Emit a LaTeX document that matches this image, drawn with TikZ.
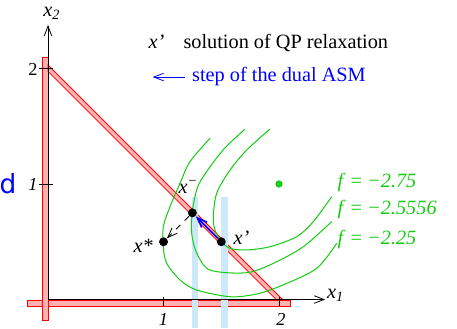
\documentclass[tikz,border=0pt]{standalone}
\usepackage{fontspec}
\setmainfont{Liberation Serif}
\newfontfamily\dsans{DejaVu Sans}
\usetikzlibrary{arrows.meta}
\definecolor{barred}{RGB}{255,178,178}
\definecolor{barblue}{RGB}{204,232,250}
\definecolor{levgreen}{RGB}{20,205,20}
\begin{document}
\begin{tikzpicture}[x=2cm, y=2cm,
  every node/.style={font=\normalsize},
  constr/.style={draw=red, line width=0.4pt, fill=barred},
  branch/.style={fill=barblue},
  level/.style={levgreen, line width=0.5pt},
  barb/.style={-{Straight Barb[length=1.7mm, width=1.3mm]}},
  pt/.style={circle, fill=black, inner sep=0pt, minimum size=4.4pt},
  lab/.style={font=\itshape, inner sep=1pt},
  tick/.style={font=\small\itshape, inner sep=1pt}]
\useasboundingbox (-0.4156,-0.2468) rectangle (3.541,2.593);

% constraints of the QP
\filldraw[constr] (-0.18,-0.004) rectangle (2.10,-0.056);
\filldraw[constr] (-0.052,-0.177) rectangle (0,2.10);
\filldraw[constr] (0,1.975) -- (0,2.03) -- (2.03,0) -- (1.975,0) -- cycle;

% branching strips
\fill[branch] (1.25,-0.25) rectangle (1.30,0.89);
\fill[branch] (1.50,-0.25) rectangle (1.556,0.89);

% level sets of f
\draw[level] plot[smooth] coordinates {(1.403,1.396) (1.229,1.193) (1.143,1.006)
  (1.056,0.803) (0.998,0.630) (0.998,0.457) (1.028,0.313) (1.143,0.169)
  (1.287,0.082) (1.576,0.024) (1.807,0.048) (2.035,0.126) (2.326,0.270) (2.500,0.487)};
\draw[level] plot[smooth] coordinates {(1.706,1.476) (1.515,1.294) (1.342,1.061)
  (1.287,0.948) (1.249,0.760) (1.244,0.573) (1.287,0.403) (1.403,0.255)
  (1.720,0.232) (1.951,0.313) (2.210,0.457) (2.456,0.674)};
\draw[level] plot[smooth] coordinates {(1.922,1.476) (1.720,1.294) (1.576,1.121)
  (1.461,0.922) (1.431,0.717) (1.446,0.602) (1.504,0.500) (1.576,0.443)
  (1.720,0.429) (1.922,0.457) (2.153,0.544) (2.297,0.674) (2.456,0.890)};
\node[circle, fill=levgreen, inner sep=0pt, minimum size=3.6pt] (fmin) at (2,1) {};

\node[levgreen, anchor=base west] (f1) at (2.445,0.974) {\textit{f} = \textit{−2.75}};
\node[levgreen, anchor=base west] (f2) at (2.445,0.732) {\textit{f} = \textit{−2.5556}};
\node[levgreen, anchor=base west] (f3) at (2.445,0.472) {\textit{f} = \textit{−2.25}};

% axes
\coordinate (O) at (0,0);
\coordinate (x1end) at (2.40,0);
\coordinate (x2end) at (0,2.377);
\draw[barb] (O) -- (x1end);
\draw[barb] (O) -- (x2end);
\node[lab] (x1lab) at (2.49,0.04) {x\textsubscript{1}};
\node[lab] (x2lab) at (0.035,2.48) {x\textsubscript{2}};

\draw (1,0.024) -- (1,-0.056);
\draw (2,0.024) -- (2,-0.056);
\draw (-0.078,1) -- (0.043,1);
\draw (-0.078,2) -- (0.043,2);
\node[tick] (t1x) at (1.0,-0.17) {1};
\node[tick] (t2x) at (2.017,-0.17) {2};
\node[tick] (t1y) at (-0.13,1.0) {1};
\node[tick, font=\small] (t2y) at (-0.13,1.995) {2};

% iterates
\node[pt] (xprime) at (1.5,0.5) {};
\node[pt] (xminus) at (1.25,0.75) {};
\node[pt] (xstar) at (1,0.5) {};
\node[lab] (xprimelab) at (1.675,0.535) {x’};
\node[lab] (xminuslab) at (1.215,0.975) {x\textsuperscript{−}};
\node[lab] (xstarlab) at (0.825,0.465) {x*};

\draw[barb, blue, line width=0.8pt] (xprime) -- (xminus);
\draw[barb, dashed] (xminus) -- (xstar);

% legend
\node[lab, anchor=base west] (legx) at (0.85,2.177) {x’};
\node[anchor=base west] (legsol) at (1.111,2.177) {solution of QP relaxation};
\node[blue, anchor=base west] (legstep) at (1.186,1.886) {step of the dual ASM};
\coordinate (legtip) at (0.906,1.926);
\draw[barb, blue] (legstep.west |- legtip) -- (legtip);

\node[blue, font=\dsans\fontsize{13}{13}\selectfont] (dfrag) at (-0.346,1.0) {d};
\end{tikzpicture}
\end{document}
